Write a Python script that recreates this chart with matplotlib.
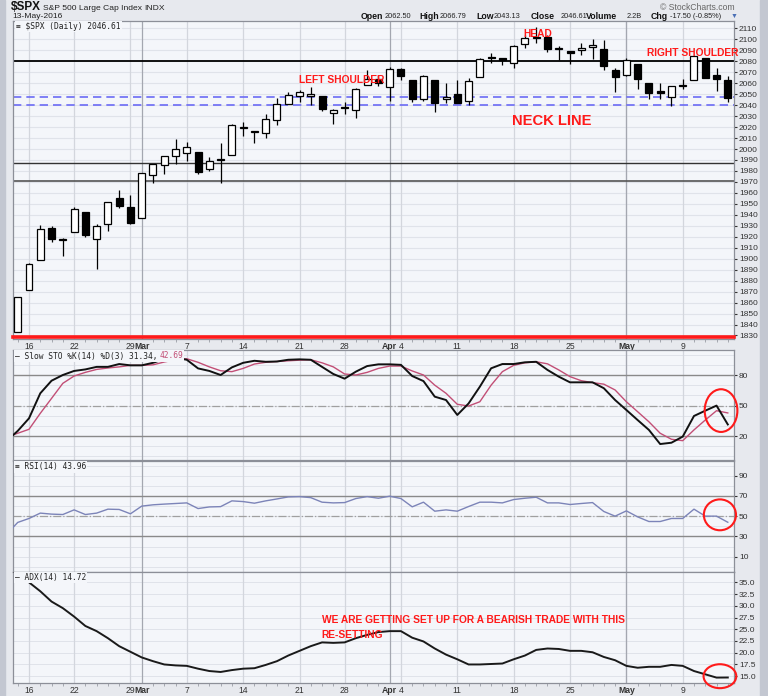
import matplotlib
matplotlib.use('Agg')
import matplotlib.pyplot as plt
from matplotlib.patches import Ellipse, Rectangle
import numpy as np

plt.rcParams['font.family'] = ['Liberation Sans', 'DejaVu Sans']

W, H = 768, 696

# daily candles, 12-Feb-2016 .. 13-May-2016 (64 sessions)
opens = [1833.40, 1871.44, 1898.80, 1927.57, 1916.74, 1924.44, 1942.38, 1917.56, 1931.87, 1954.95,
         1947.13, 1937.09, 1976.60, 1985.60, 1994.01, 1996.11, 1996.88, 1981.44, 1990.97, 1994.71,
         2019.27, 2015.27, 2014.24, 2026.90, 2041.16, 2048.64, 2048.64, 2048.55, 2032.48, 2037.89,
         2035.75, 2058.27, 2063.77, 2056.62, 2073.19, 2062.50, 2045.56, 2063.01, 2045.54, 2050.23,
         2043.72, 2065.92, 2082.89, 2083.10, 2078.83, 2096.05, 2101.52, 2102.09, 2091.49, 2089.37,
         2089.84, 2092.57, 2090.93, 2071.82, 2067.17, 2077.18, 2060.30, 2052.95, 2047.77, 2057.55,
         2062.63, 2083.29, 2067.17, 2062.50]
highs = [1864.78, 1895.77, 1930.68, 1930.00, 1918.78, 1946.70, 1942.38, 1932.08, 1951.83, 1962.96,
         1958.27, 1978.35, 1986.51, 1993.69, 2009.13, 2006.12, 1996.88, 1992.69, 2005.08, 2022.37,
         2024.57, 2015.94, 2032.02, 2046.24, 2052.36, 2053.91, 2056.60, 2048.55, 2036.04, 2042.67,
         2055.91, 2072.21, 2067.92, 2075.07, 2074.02, 2062.50, 2067.33, 2063.01, 2060.63, 2062.93,
         2065.05, 2083.18, 2087.84, 2083.22, 2094.66, 2104.05, 2111.05, 2103.78, 2094.32, 2089.37,
         2096.87, 2099.89, 2099.30, 2073.85, 2083.42, 2077.18, 2060.30, 2060.23, 2057.72, 2064.15,
         2084.87, 2083.29, 2073.99, 2066.79]
lows = [1833.40, 1871.44, 1898.80, 1915.09, 1902.17, 1924.44, 1919.44, 1891.00, 1925.41, 1945.78,
        1931.81, 1937.09, 1968.80, 1977.37, 1986.77, 1989.38, 1977.43, 1979.84, 1969.25, 1994.71,
        2012.05, 2005.23, 2010.04, 2022.16, 2041.16, 2043.14, 2040.57, 2034.86, 2022.49, 2031.96,
        2028.31, 2058.27, 2057.46, 2043.98, 2062.57, 2042.56, 2043.78, 2033.80, 2041.69, 2041.88,
        2039.74, 2065.92, 2078.13, 2076.31, 2073.65, 2091.68, 2096.32, 2088.52, 2081.20, 2077.52,
        2085.80, 2082.31, 2071.62, 2052.28, 2066.11, 2054.89, 2045.55, 2045.77, 2039.45, 2054.31,
        2062.63, 2064.46, 2053.13, 2043.13]
closes = [1864.78, 1895.58, 1926.82, 1917.83, 1917.78, 1945.50, 1921.27, 1929.80, 1951.70, 1948.05,
          1932.23, 1978.35, 1986.45, 1993.40, 1999.99, 2001.76, 1979.26, 1989.26, 1989.57, 2022.19,
          2019.64, 2015.93, 2027.22, 2040.59, 2049.58, 2051.60, 2049.80, 2036.71, 2035.94, 2037.05,
          2055.01, 2063.95, 2059.74, 2072.78, 2066.13, 2045.17, 2066.66, 2041.91, 2047.60, 2041.99,
          2061.72, 2082.42, 2082.78, 2080.73, 2094.34, 2100.80, 2102.40, 2091.48, 2091.58, 2087.79,
          2091.70, 2095.15, 2075.81, 2065.30, 2081.43, 2063.37, 2051.12, 2050.63, 2057.14, 2058.69,
          2084.39, 2064.46, 2064.11, 2046.61]

# indicators, first value is 11-Feb (only the edge of it shows)
sto_k = [15, 25, 37.4, 62, 74.4, 80, 84, 85.5, 88, 88, 90.8, 89.5, 89.5, 92, 95.7, 97, 95, 86.5, 84, 80,
         87.5, 92, 94, 93, 93.3, 95, 95.4, 95, 88, 81, 76.4, 83.3, 88.8, 90.5, 90.5, 90, 79, 74, 58.7,
         55.4, 40.7, 52, 68.5, 86.6, 90.8, 90.8, 92.5, 93, 85, 78.4, 72.8, 72.8, 72.8, 67, 55.4, 45.6,
         35.7, 26, 12.1, 13.4, 19.4, 39.7, 44.9, 49.9, 31.34]
sto_d = [19, 22.7, 26.6, 42.3, 57, 71.8, 79, 82.6, 85.5, 86.9, 88, 89.5, 89.5, 90, 92.8, 95, 96, 92.5,
         88, 84.2, 83.3, 86.5, 90.8, 92.5, 93.3, 94, 94.6, 95, 92, 88, 81, 80, 82.6, 86.5, 88.8, 88.8,
         84, 80, 70, 62, 51.2, 49.5, 53.7, 70, 83.3, 89.5, 92, 93, 91, 85, 78.4, 74.4, 72.5, 71, 65.3,
         53.7, 43.9, 34, 22.7, 16.8, 15.4, 26, 35.7, 44.9, 42.69]
rsi = [32, 43.8, 47.7, 53, 52, 51.6, 56.2, 51.6, 53, 56.9, 56.6, 52.3, 59.9, 61.2, 61.9, 62.5, 63.1,
       57.5, 59.1, 59.4, 65.1, 64.4, 62.8, 65.1, 67, 69, 69.3, 68.3, 63.8, 63.1, 63.4, 67.4, 69.3, 67.7,
       69.7, 67.4, 59.2, 63.8, 54.9, 56.2, 54.9, 59.5, 63.8, 63.8, 63.1, 66.4, 67.7, 68.7, 63.1, 63.1,
       61.5, 62.5, 63.4, 54.6, 50, 55.2, 49.3, 44.7, 44.7, 47.7, 47.7, 56.9, 50, 50, 43.96]
adx = [38.5, 36.7, 35.0, 33.1, 30.9, 29.5, 27.7, 25.7, 24.6, 23.1, 21.4, 20.2, 19.0, 18.2, 17.5, 17.3,
       17.2, 16.6, 16.1, 15.9, 16.3, 16.6, 16.7, 17.4, 18.2, 19.4, 20.4, 21.4, 22.2, 22.1, 22.2, 23.1,
       23.8, 24.4, 24.6, 24.6, 23.2, 22.4, 20.9, 19.6, 18.6, 17.5, 17.5, 17.6, 17.7, 18.6, 19.4, 20.6,
       20.9, 20.8, 20.4, 20.4, 20.1, 19.1, 18.4, 17.2, 16.8, 17.0, 17.0, 17.4, 17.2, 16.1, 15.4, 14.7,
       14.72]

# date axis (session index)
tick_pos = [1, 5, 10, 11, 15, 20, 25, 29, 33, 34, 39, 44, 49, 54, 59]
tick_text = ['16', '22', '29', 'Mar', '7', '14', '21', '28', 'Apr', '4', '11', '18', '25', 'May', '9']
week_lines = [1, 5, 10, 15, 20, 25, 29, 34, 39, 44, 49, 54, 59]
month_lines = [11, 33, 54]

neck_top, neck_bot = 2047, 2040
res_line = 2080
sup_lines = [1987.5, 1971]
red_line = 1828.3

header_labels = ['Open', 'High', 'Low', 'Close', 'Volume', 'Chg']
header_values = ['2062.50', '2066.79', '2043.13', '2046.61', '2.2B', '-17.50 (-0.85%)']

BG = '#f4f6fa'
GRID = '#e0e3ea'
RED = '#ff1a1a'


def rect(top, bottom, left=13, right=734):
    return [left / W, 1 - bottom / H, (right - left) / W, (bottom - top) / H]


def seq_text(fig, x, y, parts, size, family=None, bbox=None, gap=3):
    # write pieces one after the other, in pixel coords
    r = fig.canvas.get_renderer()
    for s, weight, color in parts:
        t = fig.text(x / W, 1 - y / H, s, fontsize=size, fontweight=weight, color=color,
                     va='center', ha='left', family=family, bbox=bbox, zorder=10)
        x += t.get_window_extent(renderer=r).width + gap
    return x


fig = plt.figure(figsize=(W / 100, H / 100), dpi=100)
fig.patch.set_facecolor('#e7e9ee')
fig.patches.append(Rectangle((0, 0), 5 / W, 1, transform=fig.transFigure, color='#c3c7d1', zorder=0))
fig.patches.append(Rectangle((760 / W, 0), 8 / W, 1, transform=fig.transFigure, color='#c3c7d1', zorder=0))

ax_p = fig.add_axes(rect(21, 339))
ax_s = fig.add_axes(rect(350, 460))
ax_r = fig.add_axes(rect(461, 572))
ax_a = fig.add_axes(rect(572, 683))
axes = [ax_p, ax_s, ax_r, ax_a]

for ax in axes:
    ax.set_facecolor(BG)
    ax.set_xlim(-0.42, 63.55)
    for s in ax.spines.values():
        s.set_color('#8c8f98')
        s.set_linewidth(0.9)
    for w in week_lines:
        ax.axvline(w, color='#d3d6dd', lw=0.9, zorder=1)
    for m in month_lines:
        ax.axvline(m, color='#a4a7b0', lw=0.9, zorder=1)
    ax.yaxis.tick_right()
    ax.tick_params(axis='y', length=2, pad=1.5, labelsize=6, colors='#333333')
    ax.set_xticks([])

# ---- price panel
x = np.arange(len(opens))
o = np.array(opens)
c = np.array(closes)
ax_p.set_ylim(1826.8, 2116.7)
ax_p.set_yticks(np.arange(1830, 2111, 10))
for v in np.arange(1830, 2111, 10):
    ax_p.axhline(v, color=GRID, lw=0.8, zorder=0.5)
ax_p.vlines(x, lows, highs, color='black', lw=0.9, zorder=3)
body_lo = np.minimum(o, c)
body_h = np.maximum(np.abs(c - o), 0.9)
face = ['black' if cl < op else 'white' for op, cl in zip(opens, closes)]
ax_p.bar(x, body_h, bottom=body_lo, width=0.62, color=face, edgecolor='black', lw=0.9, zorder=4)

ax_p.axhline(res_line, color='black', lw=1.3, zorder=2)
for v in (neck_top, neck_bot):
    ax_p.axhline(v, color='#6b6bf5', lw=1.2, dashes=(5, 3), zorder=2)
ax_p.axhline(sup_lines[0], color='#333333', lw=1.0, zorder=2)
ax_p.axhline(sup_lines[1], color='#555555', lw=1.2, zorder=2)
ax_p.axhline(red_line, color=RED, lw=2.6, zorder=5, clip_on=False)

lab = dict(color=RED, fontweight='bold', ha='center', va='center', zorder=6)
ax_p.text(46.1, 2105.3, 'HEAD', fontsize=7.4, **lab)
ax_p.text(28.7, 2063.0, 'LEFT SHOULDER', fontsize=7.4, **lab)
ax_p.text(59.85, 2087.5, 'RIGHT SHOULDER', fontsize=7.4, clip_on=False, **lab)
ax_p.text(47.4, 2025.8, 'NECK LINE', fontsize=10.6, **lab)

# date labels
for ax in (ax_p, ax_a):
    ax.set_xticks(tick_pos)
    ax.set_xticklabels(tick_text)
    ax.set_xticks(x, minor=True)
    ax.tick_params(axis='x', which='major', length=0, pad=2, labelsize=6.2, colors='#333333')
    ax.tick_params(axis='x', which='minor', length=2, color='#9a9da6', width=0.6)
    for t in ax.get_xticklabels():
        if t.get_text() in ('Mar', 'Apr', 'May'):
            t.set_fontweight('bold')

xi = np.arange(-1, 64)

# ---- slow stochastics
ax_s.set_ylim(-3.6, 104.6)
ax_s.set_yticks([20, 50, 80])
for v in range(0, 101, 10):
    ax_s.axhline(v, color=GRID, lw=0.7, zorder=0.5)
ax_s.axhline(80, color='#8a8a8a', lw=1.0, zorder=1.5)
ax_s.axhline(20, color='#8a8a8a', lw=1.0, zorder=1.5)
ax_s.axhline(50, color='#a0a0a0', lw=0.9, ls='-.', zorder=1.5)
ax_s.plot(xi, sto_d, color='#c24f76', lw=1.0, zorder=3)
ax_s.plot(xi, sto_k, color='#111111', lw=1.4, zorder=4)
ax_s.add_patch(Ellipse((62.4, 45), 2.9, 42, fill=False, edgecolor=RED, lw=1.5, clip_on=False, zorder=6))

# ---- RSI
ax_r.set_ylim(-5.2, 104.5)
ax_r.set_yticks([10, 30, 50, 70, 90])
for v in range(0, 101, 10):
    ax_r.axhline(v, color=GRID, lw=0.7, zorder=0.5)
ax_r.axhline(70, color='#8a8a8a', lw=1.0, zorder=1.5)
ax_r.axhline(30, color='#8a8a8a', lw=1.0, zorder=1.5)
ax_r.axhline(50, color='#a0a0a0', lw=0.9, ls='-.', zorder=1.5)
ax_r.plot(xi, rsi, color='#7c84b8', lw=1.0, zorder=3)
ax_r.add_patch(Ellipse((62.3, 51.3), 2.85, 30.5, fill=False, edgecolor=RED, lw=1.5, clip_on=False, zorder=6))

# ---- ADX
ax_a.set_ylim(13.55, 37.2)
ax_a.set_yticks(np.arange(15, 35.1, 2.5))
ax_a.set_yticklabels(['%.1f' % v for v in np.arange(15, 35.1, 2.5)])
for v in np.arange(15, 35.1, 2.5):
    ax_a.axhline(v, color=GRID, lw=0.7, zorder=0.5)
ax_a.plot(xi, adx, color='#1a1a1a', lw=1.4, zorder=3)
ax_a.add_patch(Ellipse((62.3, 15.0), 2.9, 5.1, fill=False, edgecolor=RED, lw=1.5, clip_on=False, zorder=6))
note = dict(color=RED, fontweight='bold', fontsize=7.4, ha='left', va='center', zorder=6)
ax_a.text(26.97, 27.0, 'WE ARE GETTING SET UP FOR A BEARISH TRADE WITH THIS', **note)
ax_a.text(26.97, 23.8, 'RE-SETTING', **note)

# ---- panel legends
box = dict(facecolor=BG, edgecolor='none', pad=0.8)
mono = 'DejaVu Sans Mono'
seq_text(fig, 16, 26.5, [('\u2261 $SPX (Daily) 2046.61', 'normal', '#222222')], 5.7, mono, box)
xx = seq_text(fig, 15, 356, [('\u2014 Slow STO %K(14) %D(3) 31.34,', 'normal', '#222222')], 5.7, mono, box)
seq_text(fig, xx - 1, 356, [('42.69', 'normal', '#c24f76')], 5.7, mono, box)
seq_text(fig, 15, 467, [('\u2261 RSI(14) 43.96', 'normal', '#222222')], 5.7, mono, box)
seq_text(fig, 15, 577.5, [('\u2014 ADX(14) 14.72', 'normal', '#222222')], 5.7, mono, box)

# ---- header
xx = seq_text(fig, 11, 7.5, [('$SPX', 'bold', '#111111')], 8.5)
seq_text(fig, xx - 1, 8, [('S&P 500 Large Cap Index', 'normal', '#222222'),
                          ('INDX', 'normal', '#222222')], 6.1, gap=2)
fig.text(12 / W, 1 - 17 / H, '13-May-2016', fontsize=6.1, color='#222222', va='center')
fig.text(735 / W, 1 - 7 / H, '\u00a9 StockCharts.com', fontsize=6.2, color='#666666', va='center', ha='right')
lab_x = [361, 419, 476, 531, 586, 651]
val_x = [385, 440, 494, 561, 627, 670]
for s, px in zip(header_labels, lab_x):
    fig.text(px / W, 1 - 16.5 / H, s, fontsize=6.3, fontweight='bold', color='#111111',
             va='center', ha='left')
for s, px in zip(header_values, val_x):
    fig.text(px / W, 1 - 16.5 / H, s, fontsize=5.3, color='#222222', va='center', ha='left')
fig.text(731 / W, 1 - 16.5 / H, '\u25bc', fontsize=5, color='#4a6fb5', va='center', ha='left')

fig.savefig('out.png', dpi=100, facecolor=fig.get_facecolor())
